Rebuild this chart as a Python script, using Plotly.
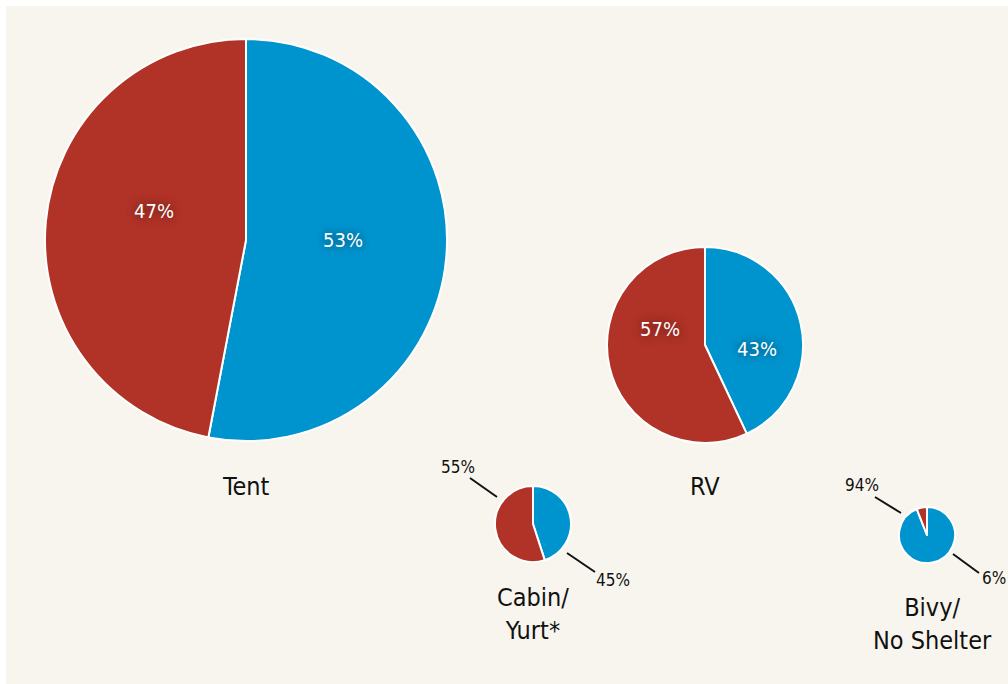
import plotly.graph_objects as go

# shelter types and share of campers (blue = first value, red = second)
shelters = ["Tent", "RV", "Cabin/<br>Yurt*", "Bivy/<br>No Shelter"]
blue_share = [53, 43, 45, 94]
red_share = [47, 57, 55, 6]
# the small pies carry their percentages outside, as printed
outside_top = ["", "", "55%", "94%"]
outside_bottom = ["", "", "45%", "6%"]

W, H = 1008, 684
BLUE = "#0094cf"
RED = "#b13227"
CREAM = "#f8f5ee"
FONT = "DejaVu Sans Condensed, Liberation Sans Narrow, Roboto, sans-serif"

# pixel centre and radius of each pie
centres = [(246, 240), (705, 345), (533, 524), (927, 535)]
radii = [201, 98, 38, 28]
label_pos = [(246, 486), (705, 486), (533, 614), (932, 624)]
# inside label offsets from the centre (red, blue) for the big pies
inside_off = [((-92, -29), (97, 0)), ((-45, -16), (52, 4))]
# leader line (start, end) and text offsets for the small pies
top_line = [None, None, ((-63, -46), (-36, -27)), ((-52, -38), (-26, -22))]
top_text = [None, None, (-75, -57), (-65, -50)]
bot_line = [None, None, ((34, 29), (62, 48)), ((26, 19), (52, 38))]
bot_text = [None, None, (80, 56), (67, 43)]


def px(x, y):
    return x / W, 1 - y / H


def note(x, y, text, size, color="#111111", shadow=None):
    ax_, ay_ = px(x, y)
    f = dict(family=FONT, size=size, color=color)
    if shadow:
        f["shadow"] = shadow
    fig.add_annotation(x=ax_, y=ay_, xref="paper", yref="paper", text=text,
                       xanchor="center", yanchor="middle",
                       showarrow=False, font=f)


def leader(p0, p1):
    fig.add_shape(type="line", xref="paper", yref="paper",
                  x0=p0[0] / W, y0=1 - p0[1] / H, x1=p1[0] / W, y1=1 - p1[1] / H,
                  line=dict(color="#111111", width=2))


fig = go.Figure()

for i, name in enumerate(shelters):
    cx, cy = centres[i]
    r = radii[i]
    fig.add_trace(go.Pie(
        values=[blue_share[i], red_share[i]],
        labels=["blue", "red"],
        sort=False,
        direction="clockwise",
        rotation=0,
        marker=dict(colors=[BLUE, RED], line=dict(color="white", width=2)),
        textinfo="none",
        hoverinfo="skip",
        showlegend=False,
        domain=dict(x=[(cx - r) / W, (cx + r) / W],
                    y=[1 - (cy + r) / H, 1 - (cy - r) / H]),
    ))
    note(label_pos[i][0], label_pos[i][1], name, 25)
    if i < len(inside_off):
        (rx, ry), (bx, by) = inside_off[i]
        glow = "0px 0px 10px rgba(0,0,0,0.6)"
        note(cx + rx, cy + ry, f"{red_share[i]}%", 20, "white", glow)
        note(cx + bx, cy + by, f"{blue_share[i]}%", 20, "white", glow)
    if outside_top[i]:
        (a, b) = top_line[i]
        leader((cx + a[0], cy + a[1]), (cx + b[0], cy + b[1]))
        note(cx + top_text[i][0], cy + top_text[i][1], outside_top[i], 17)
        (a, b) = bot_line[i]
        leader((cx + a[0], cy + a[1]), (cx + b[0], cy + b[1]))
        note(cx + bot_text[i][0], cy + bot_text[i][1], outside_bottom[i], 17)

fig.add_shape(type="rect", xref="paper", yref="paper",
              x0=6 / W, x1=1, y0=0, y1=1 - 6 / H,
              fillcolor=CREAM, line=dict(width=0), layer="below")

fig.update_layout(
    width=W, height=H,
    margin=dict(l=0, r=0, t=0, b=0),
    paper_bgcolor="white",
)

fig.write_html("out.html", config={"displayModeBar": False},
               post_script="document.body.style.margin='0';")
